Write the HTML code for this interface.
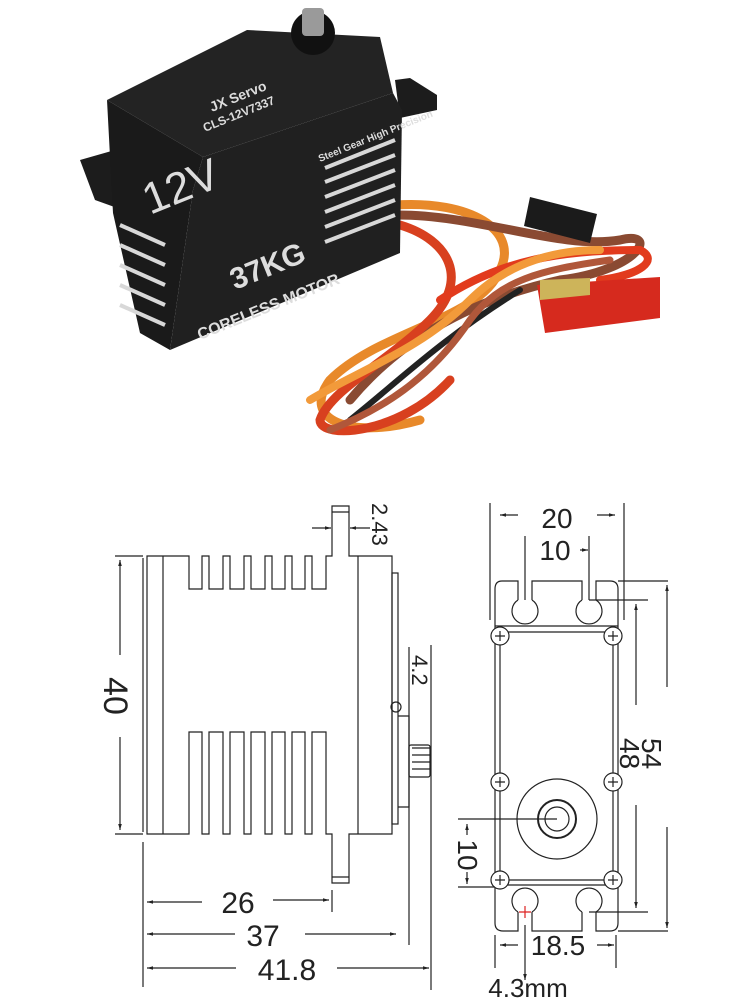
<!DOCTYPE html>
<html><head><meta charset="utf-8"><style>
html,body{margin:0;padding:0;background:#fff;width:750px;height:1000px;overflow:hidden}
svg{display:block}
text{font-family:"Liberation Sans",sans-serif}
</style></head><body>
<svg width="750" height="1000" viewBox="0 0 750 1000">
<defs>
<marker id="a" viewBox="0 0 10 10" refX="10" refY="5" markerWidth="5" markerHeight="5" orient="auto-start-reverse"><path d="M0,2 L10,5 L0,8z" fill="#222"/></marker>
</defs>
<!-- ===== PHOTO ===== -->
<g fill="none" stroke-linecap="round">
<path d="M395,205 C470,200 520,230 500,270 C480,320 380,330 330,380 C300,420 350,440 420,420" stroke="#e8892a" stroke-width="9"/>
<path d="M398,215 C480,215 560,250 620,240 C660,230 640,270 560,280 C470,300 400,340 350,400" stroke="#8a4a32" stroke-width="9"/>
<path d="M400,225 C450,240 470,280 430,320 C390,360 330,390 320,420 C320,440 400,435 450,380" stroke="#d8401f" stroke-width="9"/>
<path d="M440,300 C500,260 560,250 640,250 C660,260 640,275 600,280" stroke="#e23b1d" stroke-width="8"/>
<path d="M350,420 C400,380 440,340 520,290" stroke="#222" stroke-width="6"/>
<path d="M310,400 C360,370 420,350 470,300 C510,260 560,250 600,250" stroke="#f29a3a" stroke-width="8"/>
<path d="M330,430 C380,410 430,380 470,320 C500,280 540,270 610,260" stroke="#b0573a" stroke-width="7"/>
</g>
<polygon points="530,197 597,214 590,243 524,226" fill="#1b1b1b"/>
<polygon points="537,285 660,277 660,318 545,333" fill="#d62a1e"/>
<polygon points="540,280 590,278 590,295 540,300" fill="#cdb45a"/>
<!-- body -->
<polygon points="80,160 115,150 170,205 170,227 95,200" fill="#1c1c1c"/>
<polygon points="395,80 410,78 437,95 437,110 400,118" fill="#1c1c1c"/>
<polygon points="107,100 247,30 380,37 393,93 203,157" fill="#232323"/>
<polygon points="107,100 203,157 193,190 170,350 140,333 113,213" fill="#1a1a1a"/>
<polygon points="203,157 393,93 402,110 400,253 170,350 193,190" fill="#202020"/>
<g stroke="#d8d8d8" stroke-width="4">
<line x1="325" y1="168" x2="395" y2="140"/><line x1="325" y1="182" x2="395" y2="155"/><line x1="325" y1="197" x2="395" y2="170"/>
<line x1="325" y1="212" x2="395" y2="185"/><line x1="325" y1="227" x2="395" y2="200"/><line x1="325" y1="242" x2="395" y2="215"/>
<line x1="120" y1="225" x2="165" y2="245"/><line x1="120" y1="245" x2="165" y2="265"/><line x1="120" y1="265" x2="165" y2="285"/>
<line x1="120" y1="285" x2="165" y2="305"/><line x1="120" y1="305" x2="165" y2="325"/>
</g>
<circle cx="313" cy="33" r="22" fill="#111"/>
<rect x="302" y="8" width="22" height="28" rx="4" fill="#9a9a9a"/>
<g fill="#ddd">
<text x="212" y="112" font-size="14" font-weight="bold" transform="rotate(-22 212 112)">JX Servo</text>
<text x="205" y="132" font-size="12" font-weight="bold" transform="rotate(-22 205 132)">CLS-12V7337</text>
<text x="150" y="215" font-size="44" transform="rotate(-22 150 215)">12V</text>
<text x="320" y="162" font-size="10" font-weight="bold" transform="rotate(-22 320 162)">Steel Gear High Precision</text>
<text x="235" y="290" font-size="30" font-weight="bold" transform="rotate(-22 235 290)">37KG</text>
<text x="200" y="340" font-size="16" font-weight="bold" transform="rotate(-22 200 340)">CORELESS MOTOR</text>
</g>
<!-- ===== SIDE VIEW ===== -->
<g fill="none" stroke="#222" stroke-width="1.2">
<path d="M147,556 H189 V589 H202 V556 H209 V589 H223 V556 H230 V589 H244 V556 H251 V589 H265 V556 H272 V589 H285 V556 H292 V589 H305 V556 H312 V589 H326 V556 H332 V506 H349 V556 H392 V834 H349 V883 H332 V834 H326 V732 H312 V834 H305 V732 H292 V834 H285 V732 H272 V834 H265 V732 H251 V834 H244 V732 H230 V834 H223 V732 H209 V834 H202 V732 H189 V834 H147 Z"/>
<line x1="143" y1="558" x2="143" y2="832"/>
<line x1="163" y1="556" x2="163" y2="834"/>
<line x1="358" y1="556" x2="358" y2="834"/>
<line x1="332" y1="512" x2="349" y2="512"/><line x1="332" y1="877" x2="349" y2="877"/>
<rect x="392" y="573" width="6" height="251"/>
<path d="M398,716 H409 V807 H398"/>
<rect x="409" y="745" width="21" height="32" rx="2"/>
<line x1="412" y1="748" x2="430" y2="748"/><line x1="412" y1="755" x2="430" y2="755"/><line x1="412" y1="762" x2="430" y2="762"/><line x1="412" y1="769" x2="430" y2="769"/>
<circle cx="396" cy="707" r="5"/>
<!-- dims -->
<line x1="115" y1="556" x2="143" y2="556"/><line x1="115" y1="834" x2="143" y2="834"/>
<line x1="120" y1="560" x2="120" y2="655" marker-start="url(#a)"/><line x1="120" y1="737" x2="120" y2="830" marker-end="url(#a)"/>
<line x1="312" y1="528" x2="331" y2="528" marker-end="url(#a)"/><line x1="370" y1="528" x2="350" y2="528" marker-end="url(#a)"/>
<line x1="409" y1="647" x2="409" y2="945"/><line x1="431" y1="645" x2="431" y2="990"/>
<line x1="143" y1="842" x2="143" y2="987"/><line x1="332" y1="890" x2="332" y2="912"/>
<line x1="147" y1="902" x2="202" y2="902" marker-start="url(#a)"/><line x1="273" y1="900" x2="329" y2="900" marker-end="url(#a)"/>
<line x1="147" y1="934" x2="235" y2="934" marker-start="url(#a)"/><line x1="305" y1="934" x2="396" y2="934" marker-end="url(#a)"/>
<line x1="147" y1="968" x2="236" y2="968" marker-start="url(#a)"/><line x1="337" y1="968" x2="429" y2="968" marker-end="url(#a)"/>
</g>
<g fill="#222">
<text x="0" y="0" font-size="34" text-anchor="middle" transform="translate(104,696) rotate(90)">40</text>
<text x="0" y="0" font-size="22" transform="translate(372,503) rotate(90)">2.43</text>
<text x="0" y="0" font-size="22" transform="translate(412,655) rotate(90)">4.2</text>
<text x="238" y="913" font-size="30" text-anchor="middle">26</text>
<text x="263" y="946" font-size="30" text-anchor="middle">37</text>
<text x="287" y="980" font-size="30" text-anchor="middle">41.8</text>
</g>
<!-- ===== FRONT VIEW ===== -->
<g fill="none" stroke="#222" stroke-width="1.2">
<path d="M518,600 V581 H502 Q495,581 495,589 V923 Q495,931 503,931 H518 V912"/>
<path d="M532,600 V581 H582 V600"/>
<path d="M532,912 V931 H582 V912"/>
<path d="M596,600 V581 H610 Q618,581 618,589 V923 Q618,931 610,931 H596 V912"/>
<path d="M518,600 A13,13 0 1 0 532,600"/><path d="M582,600 A13,13 0 1 0 596,600"/>
<path d="M518,912 A13,13 0 1 1 532,912"/><path d="M582,912 A13,13 0 1 1 596,912"/>
<line x1="495" y1="626" x2="618" y2="626"/><line x1="495" y1="885" x2="618" y2="885"/>
<rect x="500" y="632" width="113" height="248" rx="4"/>
<circle cx="557" cy="819" r="40"/><circle cx="557" cy="819" r="19" stroke-width="2"/><circle cx="557" cy="819" r="12"/>
<g fill="#fff">
<circle cx="500" cy="636" r="9"/><circle cx="613" cy="636" r="9"/><circle cx="500" cy="782" r="9"/><circle cx="613" cy="782" r="9"/><circle cx="500" cy="880" r="9"/><circle cx="613" cy="880" r="9"/>
</g>
<path d="M495,636 h10 M500,631 v10 M608,636 h10 M613,631 v10 M495,782 h10 M500,777 v10 M608,782 h10 M613,777 v10 M495,880 h10 M500,875 v10 M608,880 h10 M613,875 v10"/>
<!-- dims -->
<line x1="490" y1="503" x2="490" y2="620"/><line x1="624" y1="503" x2="624" y2="620"/>
<line x1="500" y1="515" x2="518" y2="515" marker-start="url(#a)"/><line x1="597" y1="515" x2="615" y2="515" marker-end="url(#a)"/>
<line x1="525" y1="536" x2="525" y2="600"/><line x1="589" y1="536" x2="589" y2="600"/><line x1="589" y1="600" x2="648" y2="600"/>
<line x1="580" y1="550" x2="588" y2="550" marker-end="url(#a)"/>
<line x1="618" y1="581" x2="668" y2="581"/><line x1="618" y1="931" x2="668" y2="931"/>
<line x1="589" y1="912" x2="648" y2="912"/>
<line x1="667" y1="585" x2="667" y2="687" marker-start="url(#a)"/><line x1="667" y1="827" x2="667" y2="928" marker-end="url(#a)"/>
<line x1="636" y1="604" x2="636" y2="705" marker-start="url(#a)"/><line x1="636" y1="805" x2="636" y2="908" marker-end="url(#a)"/>
<line x1="458" y1="819" x2="557" y2="819"/><line x1="458" y1="887" x2="495" y2="887"/>
<line x1="467" y1="824" x2="467" y2="835" marker-start="url(#a)"/><line x1="467" y1="872" x2="467" y2="884" marker-end="url(#a)"/>
<line x1="495" y1="935" x2="495" y2="968"/><line x1="616" y1="935" x2="616" y2="968"/>
<line x1="500" y1="945" x2="518" y2="945" marker-start="url(#a)"/><line x1="597" y1="945" x2="614" y2="945" marker-end="url(#a)"/>
<line x1="525" y1="925" x2="525" y2="980" marker-end="url(#a)"/>
</g>
<path d="M519,912 h12 M525,906 v12" stroke="#d22" stroke-width="1.2"/>
<g fill="#222">
<text x="557" y="528" font-size="28" text-anchor="middle">20</text>
<text x="555" y="560" font-size="28" text-anchor="middle">10</text>
<text x="0" y="0" font-size="28" transform="translate(620,738) rotate(90)">48</text>
<text x="0" y="0" font-size="28" transform="translate(642,738) rotate(90)">54</text>
<text x="0" y="0" font-size="28" text-anchor="middle" transform="translate(458,855) rotate(90)">10</text>
<text x="558" y="955" font-size="28" text-anchor="middle">18.5</text>
<text x="528" y="997" font-size="26" text-anchor="middle">4.3mm</text>
</g>
</svg>
</body></html>
